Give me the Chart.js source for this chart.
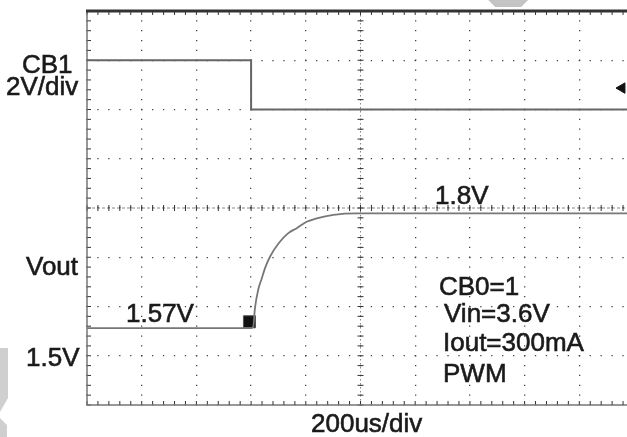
<!DOCTYPE html>
<html>
<head>
<meta charset="utf-8">
<script src="https://cdn.jsdelivr.net/npm/chart.js@4/dist/chart.umd.min.js"></script>
<style>
  html, body { margin: 0; padding: 0; background: #fff; overflow: hidden; }
  #wrap { width: 627px; height: 437px; overflow: hidden; }
</style>
</head>
<body>
<div id="wrap"><canvas id="scope" width="660" height="437"></canvas></div>
<script>
// time base: 200us/div, trigger in the centre
const timeMinUs = -1000;
const timeMaxUs = 1000;
const timeDivUs = 200;

// CB1 control signal, 2V/div
const cb1TimeUs = [-1000, -400, -400, 1000];
const cb1Volts  = [2, 2, 0, 0];

// Vout, 100mV/div
const voutTimeUs = [-1000, -400, -392, -386, -374, -361, -349, -331, -300, -264, -233, -197, -160, -99, -14, 1000];
const voutVolts  = [1.570, 1.570, 1.573, 1.610, 1.648, 1.671, 1.692, 1.715, 1.742, 1.763, 1.773, 1.786, 1.793, 1.800, 1.803, 1.803];

// scope markers
const cursorTimeUs = [-406];
const cursorVolts  = [1.583];
const groundTimeUs = [956];
const groundVolts  = [0.87];
const triggerTimeUs = 540;

const toPoints = (xs, ys) => xs.map((t, i) => ({x: t, y: ys[i]}));

// graticule extras (centre cross, minor ticks, frame) and the screen text
const scopeGrid = {
    id: 'scopeGrid',
    beforeDatasetsDraw(chart) {
        const {ctx, chartArea: a, scales: {x, y}} = chart;
        const cx = x.getPixelForValue(0);
        const cy = y.getPixelForValue(-4);
        ctx.save();
        // centre cross
        ctx.lineWidth = 1;
        ctx.strokeStyle = '#888';
        ctx.setLineDash([3, 2]);
        ctx.beginPath(); ctx.moveTo(a.left, cy); ctx.lineTo(a.right, cy); ctx.stroke();
        ctx.setLineDash([1.5, 2.5]);
        ctx.beginPath(); ctx.moveTo(cx, a.top); ctx.lineTo(cx, a.bottom); ctx.stroke();
        ctx.setLineDash([]);
        // minor ticks, 5 per division
        ctx.strokeStyle = '#333';
        ctx.beginPath();
        for (let i = 0; i <= 50; i++) {
            const px = x.getPixelForValue(timeMinUs + i * timeDivUs / 5);
            ctx.moveTo(px, cy - 3); ctx.lineTo(px, cy + 3);
            ctx.moveTo(px, a.top); ctx.lineTo(px, a.top + 4);
            ctx.moveTo(px, a.bottom); ctx.lineTo(px, a.bottom - 4);
        }
        for (let i = 0; i <= 40; i++) {
            const py = y.getPixelForValue(-12 + i * 0.4);
            ctx.moveTo(cx - 3, py); ctx.lineTo(cx + 3, py);
            ctx.moveTo(a.left, py); ctx.lineTo(a.left + 4, py);
        }
        ctx.stroke();
        // frame
        ctx.strokeStyle = '#777';
        ctx.lineWidth = 1.5;
        ctx.beginPath();
        ctx.moveTo(a.left, a.top); ctx.lineTo(a.left, a.bottom); ctx.lineTo(a.right, a.bottom);
        ctx.stroke();
        ctx.strokeStyle = '#333';
        ctx.lineWidth = 3;
        ctx.beginPath(); ctx.moveTo(a.left - 1, a.top); ctx.lineTo(a.right, a.top); ctx.stroke();
        ctx.restore();
    },
    afterDraw(chart) {
        const {ctx, scales: {x}} = chart;
        ctx.save();
        // trigger position tab above the graticule
        const tx = x.getPixelForValue(triggerTimeUs);
        ctx.fillStyle = '#c4c4c4';
        ctx.beginPath();
        ctx.moveTo(tx - 20, 0); ctx.lineTo(tx + 20, 0); ctx.lineTo(tx + 13, 7); ctx.lineTo(tx - 13, 7);
        ctx.closePath(); ctx.fill();
        // faint mark in the left margin
        ctx.fillStyle = '#cfcfcf';
        ctx.beginPath();
        ctx.moveTo(0, 348); ctx.lineTo(8, 348); ctx.lineTo(8, 398); ctx.lineTo(0, 412); ctx.closePath();
        ctx.moveTo(0, 418); ctx.lineTo(7, 425); ctx.lineTo(7, 437); ctx.lineTo(0, 437); ctx.closePath();
        ctx.fill();
        // labels
        ctx.fillStyle = '#1a1a1a';
        ctx.strokeStyle = '#1a1a1a';
        ctx.lineWidth = 0.6;
        ctx.font = '26px "Liberation Sans", Arial, sans-serif';
        ctx.textBaseline = 'alphabetic';
        const labels = [
            ['CB1', 22, 73], ['2V/div', 6, 95], ['Vout', 26, 275], ['1.5V', 26, 366],
            ['1.57V', 126, 322], ['1.8V', 435, 204],
            ['CB0=1', 439, 295], ['Vin=3.6V', 444, 322], ['Iout=300mA', 443, 351], ['PWM', 443, 382],
            ['200us/div', 311, 432]
        ];
        labels.forEach(([t, lx, ly]) => {
            ctx.fillText(t, lx, ly);
            ctx.strokeText(t, lx, ly);
        });
        ctx.restore();
    }
};

new Chart(document.getElementById('scope').getContext('2d'), {
    type: 'line',
    data: {
        datasets: [{
            label: 'CB1',
            data: toPoints(cb1TimeUs, cb1Volts),
            yAxisID: 'y',
            borderColor: '#666',
            borderWidth: 2,
            pointRadius: 0,
            tension: 0
        }, {
            label: 'Vout',
            data: toPoints(voutTimeUs, voutVolts),
            yAxisID: 'yv',
            borderColor: '#777',
            borderWidth: 1.8,
            pointRadius: 0,
            cubicInterpolationMode: 'monotone'
        }, {
            label: 'cursor',
            data: toPoints(cursorTimeUs, cursorVolts),
            yAxisID: 'yv',
            pointStyle: 'rect',
            pointRadius: 8.5,
            backgroundColor: '#111',
            borderColor: '#555',
            borderWidth: 1,
            showLine: false
        }, {
            label: 'ground',
            data: toPoints(groundTimeUs, groundVolts),
            yAxisID: 'y',
            pointStyle: 'triangle',
            rotation: 270,
            pointRadius: 6,
            backgroundColor: '#111',
            borderColor: '#111',
            showLine: false,
            clip: false
        }]
    },
    options: {
        responsive: false,
        animation: false,
        events: [],
        layout: { padding: { left: 87, top: 11, right: 26, bottom: 32 } },
        plugins: { legend: { display: false }, tooltip: { enabled: false } },
        scales: {
            x: {
                type: 'linear',
                min: timeMinUs,
                max: timeMaxUs,
                ticks: { display: false, stepSize: timeDivUs },
                grid: { color: '#444', lineWidth: 1.3, drawTicks: false },
                border: { display: false, dash: [1.3, 8.55], dashOffset: 0.65 }
            },
            y: {
                min: -12,
                max: 4,
                ticks: { display: false, stepSize: 2 },
                grid: { color: '#444', lineWidth: 1.3, drawTicks: false },
                border: { display: false, dash: [1.3, 9.64], dashOffset: 0.65 }
            },
            yv: {
                display: false,
                min: 1.414,
                max: 2.214
            }
        }
    },
    plugins: [scopeGrid]
});
</script>
</body>
</html>
